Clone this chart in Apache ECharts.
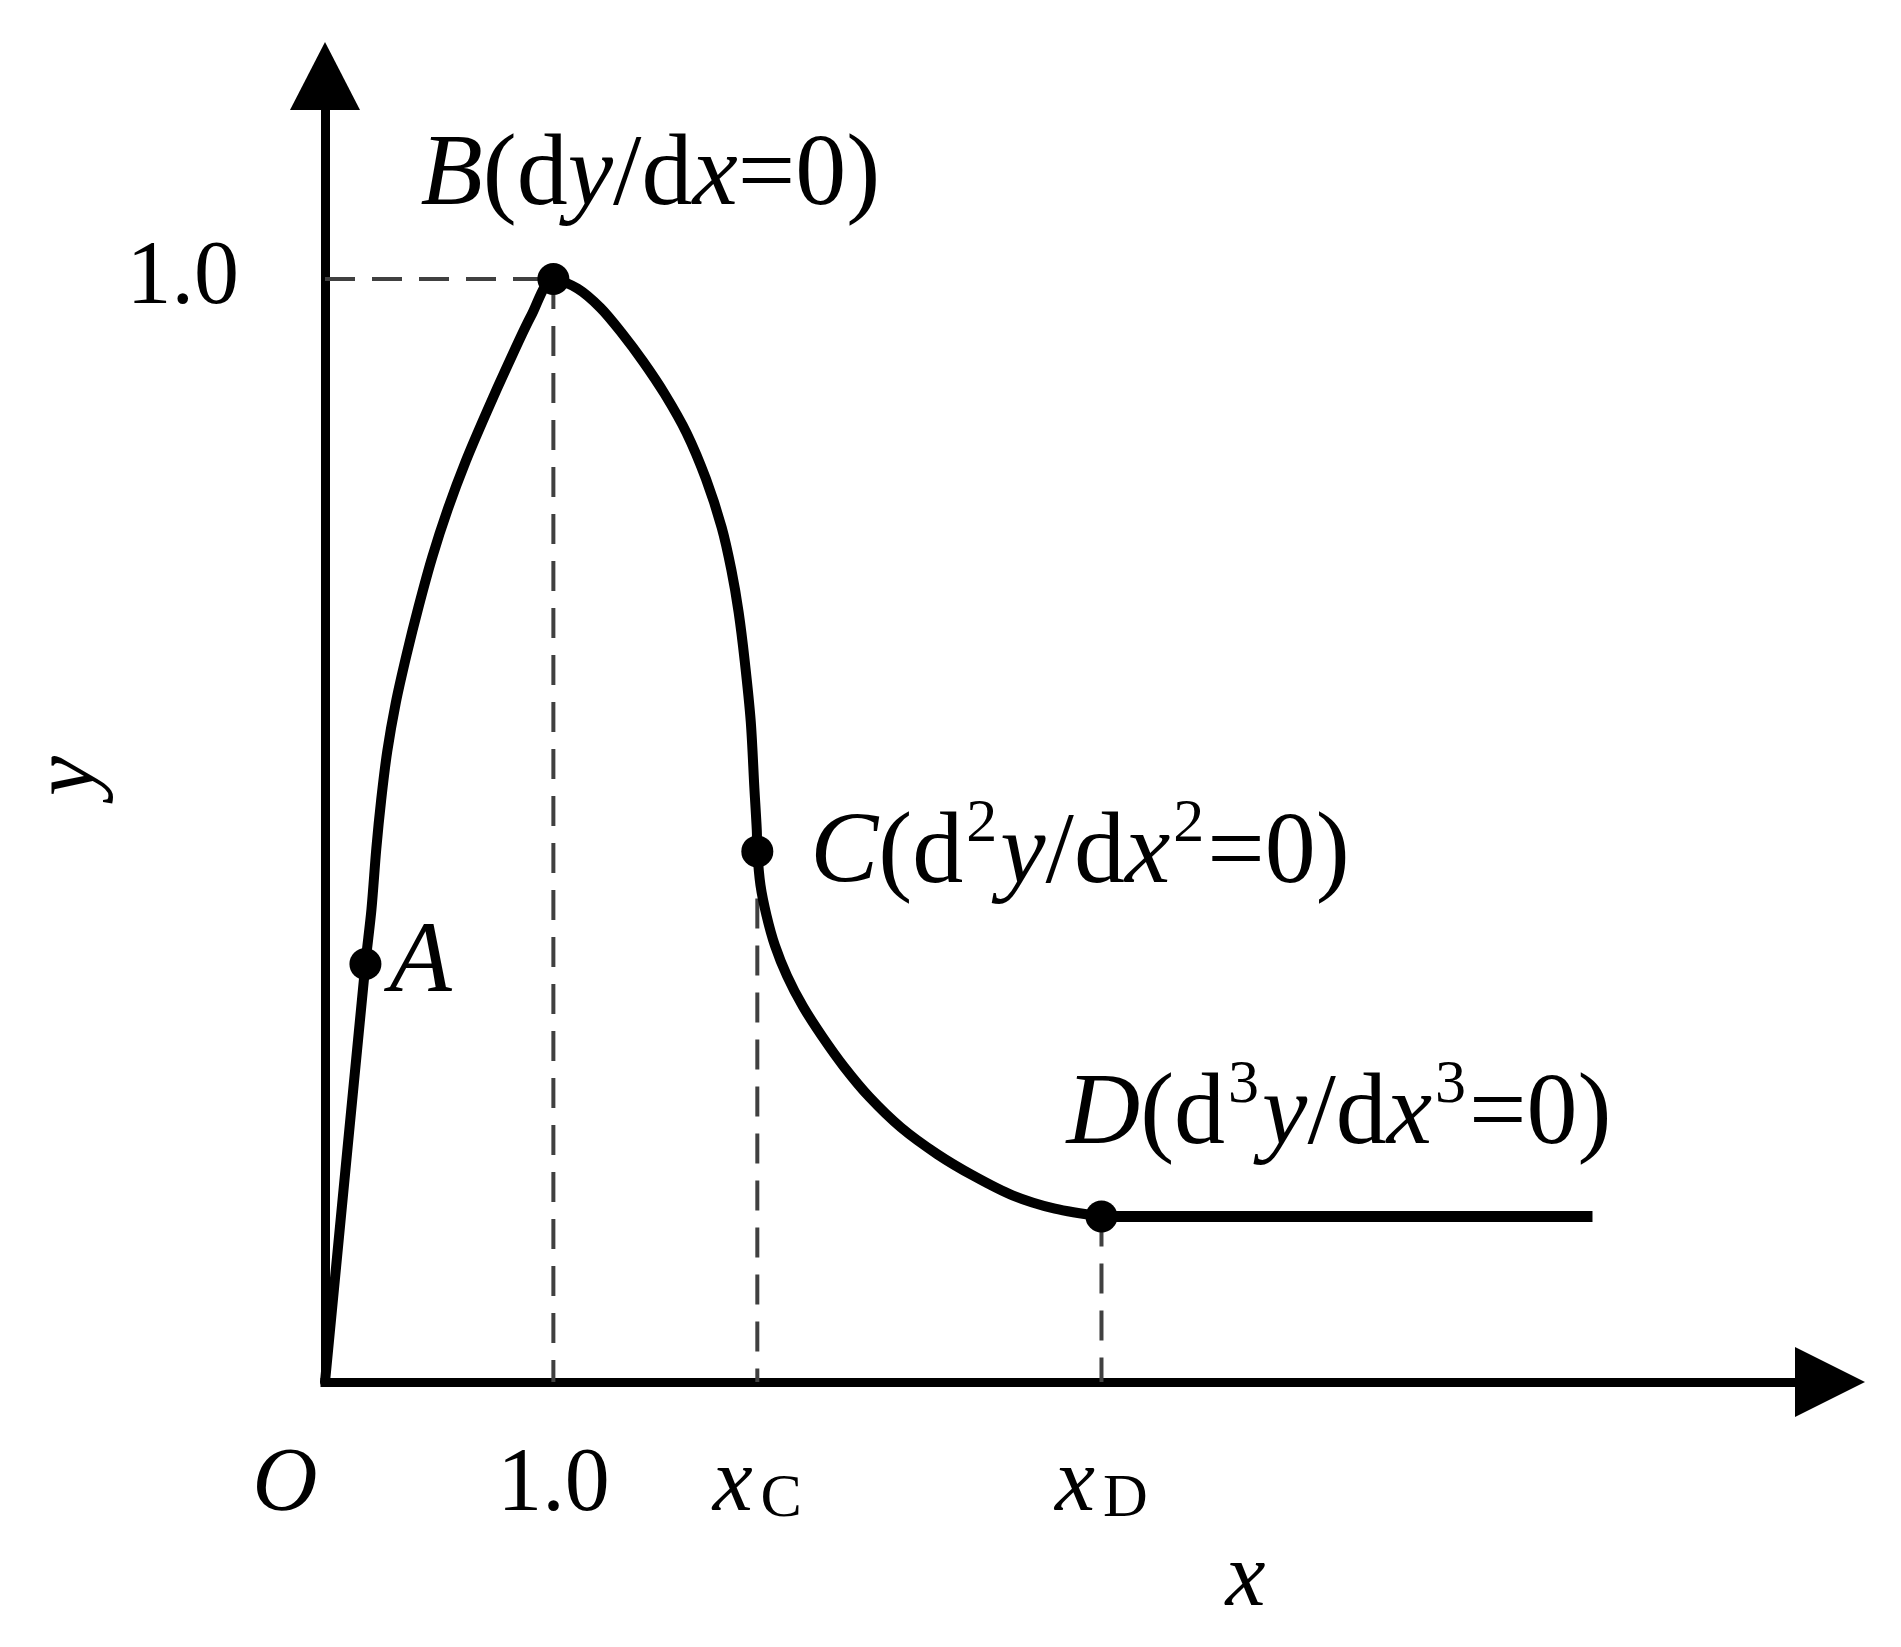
<!DOCTYPE html>
<html>
<head>
<meta charset="utf-8">
<script src="https://cdn.jsdelivr.net/npm/echarts@6/dist/echarts.min.js"></script>
<style>
html,body{margin:0;padding:0;background:#ffffff;}
#chart{width:1901px;height:1647px;}
</style>
</head>
<body>
<div id="chart"></div>
<script>
// ---- data ----
const curveX = [0, 0.177, 0.2035, 0.2247, 0.2459, 0.2725, 0.3096, 0.3573, 0.4104, 0.4688,
  0.5377, 0.6173, 0.7075, 0.8030, 0.9039, 1.0,
  1.1055, 1.2063, 1.2965, 1.3920, 1.4875, 1.5830, 1.6679, 1.7369, 1.7793, 1.8112,
  1.8377, 1.8642, 1.8801, 1.8908, 1.893,
  1.9067, 1.9332, 1.9703, 2.0234, 2.0924, 2.1773, 2.2728, 2.3842, 2.5222, 2.6813,
  2.8405, 3.0103, 3.1960, 3.40];
const curveY = [0, 0.379, 0.4286, 0.4835, 0.5275, 0.5715, 0.6154, 0.6594, 0.7034, 0.7473,
  0.7913, 0.8353, 0.8792, 0.9232, 0.9672, 1.0,
  0.9913, 0.9738, 0.9518, 0.9254, 0.8957, 0.8605, 0.8188, 0.7748, 0.7363, 0.6979,
  0.6539, 0.5989, 0.5385, 0.5000, 0.481,
  0.4506, 0.4231, 0.3956, 0.3681, 0.3406, 0.3132, 0.2857, 0.2582, 0.2307, 0.2065,
  0.1868, 0.1692, 0.1571, 0.150];
const tailX = [3.40, 5.55];
const tailY = [0.150, 0.150];
const pointNames = ['A', 'B', 'C', 'D'];
const pointX = [0.177, 1.0, 1.893, 3.40];
const pointY = [0.379, 1.0, 0.481, 0.150];
const pointLabels = ['A', 'B(dy/dx=0)', 'C(d²y/dx²=0)', 'D(d³y/dx³=0)'];
const xTickValues = [0, 1.0, 1.893, 3.40];
const xTickLabels = ['O', '1.0', 'xC', 'xD'];
const yTickValues = [1.0];
const yTickLabels = ['1.0'];
const xRange = [0, 6.59];
const yRange = [0, 1.184];

// ---- styling ----
const FONT = "'Liberation Serif', 'Times New Roman', serif";
const BIG = 102;
const TICK = 90;

function toRich(text) {
  const parts = [];
  for (const ch of text) {
    let style = 'n', c = ch;
    if ('ABCDxy'.indexOf(ch) >= 0) style = 'i';
    else if (ch === '²') { style = 'sup'; c = '2'; }
    else if (ch === '³') { style = 'sup'; c = '3'; }
    if (parts.length && parts[parts.length - 1].s === style) parts[parts.length - 1].t += c;
    else parts.push({ s: style, t: c });
  }
  return parts.map(p => '{' + p.s + '|' + p.t + '}').join('');
}

const annRich = {
  i: { fontFamily: FONT, fontStyle: 'italic', fontSize: BIG, lineHeight: 124, color: '#000' },
  n: { fontFamily: FONT, fontSize: BIG, lineHeight: 124, color: '#000' },
  sup: { fontFamily: FONT, fontSize: 62, lineHeight: 62, verticalAlign: 'top', padding: [0, 3, 0, 3], color: '#000' }
};

const labelPlacement = {
  A: { position: 'right', distance: 8 },
  B: { position: 'top', distance: 24, offset: [97, 0] },
  C: { position: 'right', distance: 37, offset: [0, 4] },
  D: { position: 'top', distance: 22, align: 'left', offset: [-35, 0] }
};

const curveData = curveX.map((x, i) => [x, curveY[i]]);
const tailData = tailX.map((x, i) => [x, tailY[i]]);
const pointData = pointNames.map((n, i) => ({
  value: [pointX[i], pointY[i]],
  label: Object.assign({
    show: true,
    color: '#000',
    opacity: 1,
    formatter: toRich(pointLabels[i]),
    rich: annRich
  }, labelPlacement[n])
}));

const iB = pointNames.indexOf('B'), iC = pointNames.indexOf('C'), iD = pointNames.indexOf('D');
const guides = [
  [[0, pointY[iB]], [pointX[iB], pointY[iB]]],
  [[pointX[iB], pointY[iB]], [pointX[iB], 0]],
  [[pointX[iC], pointY[iC]], [pointX[iC], 0]],
  [[pointX[iD], pointY[iD]], [pointX[iD], 0]]
];

function xTickFormatter(v) {
  const idx = xTickValues.findIndex(t => Math.abs(t - v) < 1e-9);
  if (idx < 0) return '';
  const lab = xTickLabels[idx];
  if (lab === 'O') return '{o|O}';
  if (lab.length === 2 && lab[0] === 'x') return '{xi|x}{sub|' + lab[1] + '}';
  return '{n|' + lab + '}';
}
function yTickFormatter(v) {
  const idx = yTickValues.findIndex(t => Math.abs(t - v) < 1e-9);
  return idx < 0 ? '' : yTickLabels[idx];
}

const axisLineStyle = { color: '#000', width: 9, cap: 'square' };

const option = {
  animation: false,
  backgroundColor: '#ffffff',
  grid: { left: 325, right: 71, top: 76, bottom: 265, containLabel: false, outerBoundsMode: 'none' },
  xAxis: {
    type: 'value', min: xRange[0], max: xRange[1],
    splitLine: { show: false },
    axisTick: { show: false },
    axisLine: { show: true, onZero: false, symbol: ['none', 'triangle'], symbolSize: [70, 70], lineStyle: axisLineStyle },
    axisLabel: {
      customValues: xTickValues,
      formatter: xTickFormatter,
      margin: 59,
      color: '#000',
      rich: {
        o: { fontFamily: FONT, fontStyle: 'italic', fontSize: TICK, lineHeight: 90, padding: [0, 80, 0, 0], color: '#000' },
        n: { fontFamily: FONT, fontSize: TICK, lineHeight: 90, color: '#000' },
        xi: { fontFamily: FONT, fontStyle: 'italic', fontSize: TICK, lineHeight: 90, verticalAlign: 'top', color: '#000' },
        sub: { fontFamily: FONT, fontSize: 62, lineHeight: 62, verticalAlign: 'bottom', padding: [50, 0, 0, 8], color: '#000' }
      }
    },
    name: 'x',
    nameLocation: 'middle',
    nameGap: 150,
    nameTextStyle: { fontFamily: FONT, fontStyle: 'italic', fontSize: TICK, color: '#000', padding: [0, 0, 0, 336] }
  },
  yAxis: {
    type: 'value', min: yRange[0], max: yRange[1],
    splitLine: { show: false },
    axisTick: { show: false },
    axisLine: { show: true, onZero: false, symbol: ['none', 'triangle'], symbolSize: [70, 68], lineStyle: axisLineStyle },
    axisLabel: {
      customValues: yTickValues,
      formatter: yTickFormatter,
      margin: 86,
      fontFamily: FONT,
      fontSize: TICK,
      color: '#000'
    },
    name: 'y',
    nameLocation: 'middle',
    nameRotate: 90,
    nameGap: 198,
    nameTextStyle: { fontFamily: FONT, fontStyle: 'italic', fontSize: TICK, color: '#000', padding: [0, 94, 0, 0] }
  },
  series: guides.map((g, k) => ({
    type: 'line', name: 'guide' + k, data: g, symbol: 'none', silent: true, z: 1,
    lineStyle: { color: '#404040', width: 4, type: [30, 17] }
  })).concat([
    {
      type: 'line', name: 'curve', data: curveData, symbol: 'none', smooth: 0.3, z: 3,
      lineStyle: { color: '#000', width: 10, cap: 'round', join: 'round' }
    },
    {
      type: 'line', name: 'tail', data: tailData, symbol: 'none', z: 3,
      lineStyle: { color: '#000', width: 11, cap: 'butt' }
    },
    {
      type: 'scatter', name: 'points', data: pointData, symbol: 'circle', symbolSize: 32, z: 5,
      itemStyle: { color: '#000', opacity: 1 }
    }
  ])
};

const chart = echarts.init(document.getElementById('chart'), null, { renderer: 'canvas' });
chart.setOption(option);
</script>
</body>
</html>
